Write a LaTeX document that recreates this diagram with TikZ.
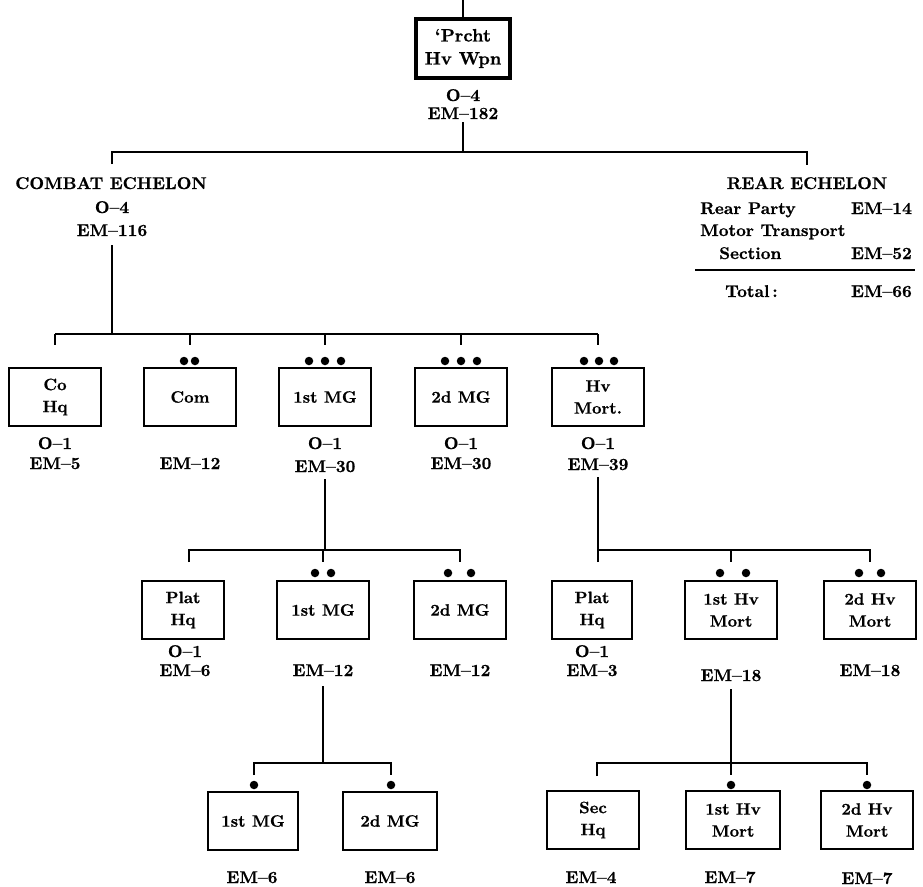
\documentclass[tikz,border=0pt]{standalone}
\usepackage{fontspec}
\usetikzlibrary{calc}
\newfontfamily\heavyfam{lmroman10-bold}[Extension=.otf,FakeBold=0.7]
\newcommand\lbfont{\fontsize{17}{20}\selectfont\heavyfam}
\newcommand\bxfont{\fontsize{16.5}{22}\selectfont\heavyfam}
\newcommand\tpfont{\fontsize{18}{23}\selectfont\heavyfam}
\begin{document}
\begin{tikzpicture}[x=1pt,y=-1pt,
  conn/.style={line width=2.2pt},
  box/.style={draw,line width=2.6pt,minimum width=92pt,minimum height=58pt,inner sep=0pt,align=center,font=\bxfont},
  lab/.style={inner sep=0pt,font=\lbfont},
  dot/.style={circle,fill,inner sep=0pt,minimum size=8.5pt}]
\useasboundingbox (0,0) rectangle (923,886);

% top
\coordinate (topend) at (463,0);
\node[box,line width=3.6pt,minimum width=94pt,minimum height=59pt,font=\tpfont] (top) at (463,48.5) {‘Prcht\\Hv Wpn};
\draw[conn] (topend) -- (top.north);
\node[lab,anchor=base] (top-o) at (463,101) {O–4};
\node[lab,anchor=base] (top-em) at (463,119) {EM–182};
\coordinate (b0L) at (112,152);
\coordinate (b0R) at (807,152);
\draw[conn,shorten <=3pt] (top-em.south) -- (top-em.south |- b0L);
\draw[conn] ($(b0L)+(0,12)$) -- (b0L) -- (b0R) -- ($(b0R)+(0,13)$);

% combat echelon
\node[lab,anchor=base] (ce) at (111,189) {COMBAT ECHELON};
\node[lab,anchor=base] (ce-o) at (112,213) {O–4};
\node[lab,anchor=base] (ce-em) at (112,236) {EM–116};

% rear echelon
\node[lab,anchor=base] (re) at (807,189) {REAR ECHELON};
\node[lab,anchor=base west] (rp) at (700,214) {Rear Party};
\node[lab,anchor=base east] (rp-em) at (912,214) {EM–14};
\node[lab,anchor=base west] (mt) at (700,236) {Motor Transport};
\node[lab,anchor=base west] (sec) at (719,259) {Section};
\node[lab,anchor=base east] (sec-em) at (912,259) {EM–52};
\coordinate (ruleL) at (695,270);
\coordinate (ruleR) at (915,270);
\draw[conn] (ruleL) -- (ruleR);
\node[lab,anchor=base west] (tot) at (725,297) {Total\,:};
\node[lab,anchor=base east] (tot-em) at (912,297) {EM–66};

% row 1
\coordinate (b1L) at (55,334);
\coordinate (b1R) at (598,334);
\draw[conn,shorten <=9pt] (ce-em.south) -- (ce-em.south |- b1L);
\draw[conn] (b1L) -- (b1R);
\node[box] (cohq) at (55,397) {Co\\Hq};
\node[box] (com) at (190,397) {Com};
\node[box] (mg1) at (325,397) {1st MG};
\node[box] (mg2) at (461,397) {2d MG};
\node[box] (hvm) at (598,397) {Hv\\Mort.};
\foreach \n in {cohq,com,mg1,mg2,hvm} \draw[conn] (\n.north |- b1L) -- ++(0,11);
\node[dot] (com-d1) at (184,361) {};
\node[dot] (com-d2) at (195,361) {};
\node[dot] (mg1-d1) at (309,361) {};
\node[dot] (mg1-d2) at (325,361) {};
\node[dot] (mg1-d3) at (341,361) {};
\node[dot] (mg2-d1) at (445,361) {};
\node[dot] (mg2-d2) at (461,361) {};
\node[dot] (mg2-d3) at (477,361) {};
\node[dot] (hvm-d1) at (584,361) {};
\node[dot] (hvm-d2) at (599,361) {};
\node[dot] (hvm-d3) at (614,361) {};
\node[lab,anchor=base] (cohq-o) at (55,449) {O–1};
\node[lab,anchor=base] (cohq-em) at (55,469) {EM–5};
\node[lab,anchor=base] (com-em) at (190,469) {EM–12};
\node[lab,anchor=base] (mg1-o) at (325,449) {O–1};
\node[lab,anchor=base] (mg1-em) at (325,472) {EM–30};
\node[lab,anchor=base] (mg2-o) at (461,449) {O–1};
\node[lab,anchor=base] (mg2-em) at (461,469) {EM–30};
\node[lab,anchor=base] (hvm-o) at (598,449) {O–1};
\node[lab,anchor=base] (hvm-em) at (598,470) {EM–39};

% row 2
\coordinate (b2L) at (189,550);
\coordinate (b2M) at (460,550);
\coordinate (b2R1) at (598,550);
\coordinate (b2R2) at (870,550);
\draw[conn,shorten <=7pt] (mg1-em.south) -- (mg1-em.south |- b2L);
\draw[conn,shorten <=7pt] (hvm-em.south) -- (hvm-em.south |- b2R1);
\draw[conn] ($(b2L)+(0,12)$) -- (b2L) -- (b2M) -- ($(b2M)+(0,12)$);
\draw[conn] ($(b2R1)+(0,12)$) -- (b2R1) -- (b2R2) -- ($(b2R2)+(0,12)$);
\node[box,minimum width=82pt] (phq1) at (183,610) {Plat\\Hq};
\node[box] (mg1b) at (323,610) {1st MG};
\node[box] (mg2b) at (460,610) {2d MG};
\node[box,minimum width=80pt] (phq2) at (592,610) {Plat\\Hq};
\node[box] (hv1) at (731,610) {1st Hv\\Mort};
\node[box] (hv2) at (870,610) {2d Hv\\Mort};
\draw[conn] (mg1b.north |- b2L) -- ++(0,12);
\draw[conn] (hv1.north |- b2R1) -- ++(0,12);
\node[dot] (mg1b-d1) at (315,573) {};
\node[dot] (mg1b-d2) at (331,573) {};
\node[dot] (mg2b-d1) at (448,573) {};
\node[dot] (mg2b-d2) at (471,573) {};
\node[dot] (hv1-d1) at (720,573) {};
\node[dot] (hv1-d2) at (746,573) {};
\node[dot] (hv2-d1) at (859,573) {};
\node[dot] (hv2-d2) at (881,573) {};
\node[lab,anchor=base] (phq1-o) at (185,657) {O–1};
\node[lab,anchor=base] (phq1-em) at (185,676) {EM–6};
\node[lab,anchor=base] (mg1b-em) at (323,676) {EM–12};
\node[lab,anchor=base] (mg2b-em) at (460,676) {EM–12};
\node[lab,anchor=base] (phq2-o) at (592,657) {O–1};
\node[lab,anchor=base] (phq2-em) at (592,676) {EM–3};
\node[lab,anchor=base] (hv1-em) at (731,681) {EM–18};
\node[lab,anchor=base] (hv2-em) at (870,676) {EM–18};

% row 3
\coordinate (b3L) at (254,763);
\coordinate (b3M) at (391,763);
\coordinate (b3R1) at (597,763);
\coordinate (b3R2) at (867,763);
\draw[conn,shorten <=10pt] (mg1b-em.south) -- (mg1b-em.south |- b3L);
\draw[conn,shorten <=8pt] (hv1-em.south) -- (hv1-em.south |- b3R1);
\draw[conn] ($(b3L)+(0,12)$) -- (b3L) -- (b3M) -- ($(b3M)+(0,12)$);
\draw[conn] ($(b3R1)+(0,13)$) -- (b3R1) -- (b3R2) -- ($(b3R2)+(0,12)$);
\draw[conn] (hv1-em.south |- b3R1) -- ++(0,12);
\node[box,minimum width=90pt] (mg1c) at (253,821) {1st MG};
\node[box,minimum width=94pt] (mg2c) at (390,821) {2d MG};
\node[box] (sechq) at (593,820) {Sec\\Hq};
\node[box,minimum width=94pt] (hv1c) at (733,820) {1st Hv\\Mort};
\node[box] (hv2c) at (867,820) {2d Hv\\Mort};
\node[dot] (mg1c-d) at (254,785) {};
\node[dot] (mg2c-d) at (391,785) {};
\node[dot] (hv1c-d) at (731,785) {};
\node[dot] (hv2c-d) at (867,785) {};
\node[lab,anchor=base] (mg1c-em) at (252,883) {EM–6};
\node[lab,anchor=base] (mg2c-em) at (390,883) {EM–6};
\node[lab,anchor=base] (sechq-em) at (591,883) {EM–4};
\node[lab,anchor=base] (hv1c-em) at (730,883) {EM–7};
\node[lab,anchor=base] (hv2c-em) at (867,884) {EM–7};
\end{tikzpicture}
\end{document}
